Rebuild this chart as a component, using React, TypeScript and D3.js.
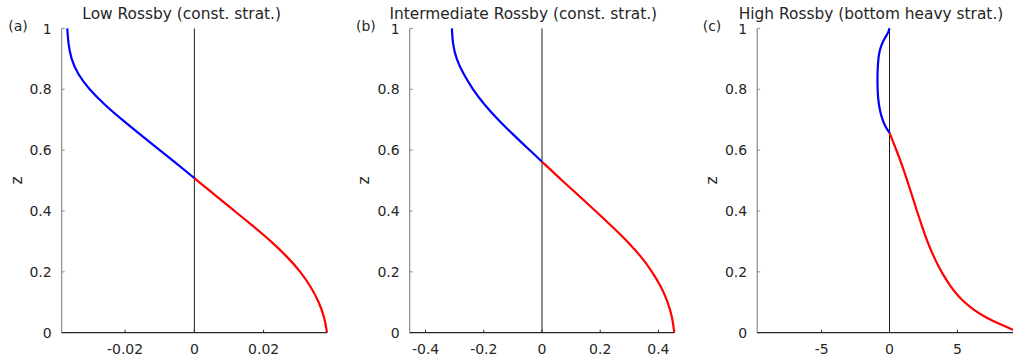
import React from "react";
import * as d3 from "d3";

// ---------- data ----------
const zTicks = [0, 0.2, 0.4, 0.6, 0.8, 1];
const zTickLabels = ["0", "0.2", "0.4", "0.6", "0.8", "1"];

const titles = [
  "Low Rossby (const. strat.)",
  "Intermediate Rossby (const. strat.)",
  "High Rossby (bottom heavy strat.)",
];
const panelTags = ["(a)", "(b)", "(c)"];
const yLabel = "z";

const xDomainA = [-0.0383, 0.0383];
const xTicksA = [-0.02, 0, 0.02];
const xTickLabelsA = ["-0.02", "0", "0.02"];
const zA_blue = [1, 0.95, 0.9, 0.85, 0.8, 0.75, 0.7, 0.65, 0.6, 0.55, 0.508];
const uA_blue = [-0.0367, -0.0364, -0.0356, -0.0337, -0.0304, -0.026, -0.0209, -0.0155, -0.01, -0.0045, 0];
const zA_red = [0.508, 0.45, 0.4, 0.35, 0.3, 0.25, 0.2, 0.15, 0.1, 0.05, 0];
const uA_red = [0, 0.0062, 0.0116, 0.017, 0.0222, 0.0268, 0.0307, 0.0337, 0.036, 0.0376, 0.0383];

const xDomainB = [-0.4546, 0.4546];
const xTicksB = [-0.4, -0.2, 0, 0.2, 0.4];
const xTickLabelsB = ["-0.4", "-0.2", "0", "0.2", "0.4"];
const zB_blue = [1, 0.95, 0.9, 0.85, 0.8, 0.75, 0.7, 0.65, 0.6, 0.562];
const uB_blue = [-0.3095, -0.307, -0.295, -0.27, -0.238, -0.199, -0.151, -0.098, -0.0426, 0];
const zB_red = [0.562, 0.5, 0.45, 0.4, 0.35, 0.3, 0.25, 0.2, 0.15, 0.1, 0.05, 0];
const uB_red = [0, 0.069, 0.127, 0.184, 0.24, 0.294, 0.341, 0.379, 0.41, 0.433, 0.448, 0.4546];

const xDomainC = [-9.75, 9.75];
const xTicksC = [-5, 0, 5];
const xTickLabelsC = ["-5", "0", "5"];
const zC_blue = [1, 0.99, 0.98, 0.96, 0.94, 0.92, 0.9, 0.87, 0.84, 0.8, 0.77, 0.74, 0.71, 0.68, 0.657];
const uC_blue = [0, -0.06, -0.18, -0.45, -0.64, -0.76, -0.82, -0.87, -0.89, -0.88, -0.84, -0.75, -0.6, -0.35, 0];
const zC_red = [0.657, 0.6, 0.55, 0.5, 0.45, 0.4, 0.35, 0.3, 0.25, 0.2, 0.15, 0.125, 0.1, 0.075, 0.05, 0.025, 0.01, 0];
const uC_red = [0, 0.51, 0.93, 1.31, 1.67, 2.02, 2.39, 2.78, 3.25, 3.81, 4.53, 4.98, 5.52, 6.19, 7.09, 8.28, 9.08, 9.7];

// ---------- layout ----------
const W = 1013;
const H = 361;
const TOP = 28.4;
const BOTTOM = 332.7;
const FONT = "'DejaVu Sans', sans-serif";
const TEXT = "#262626";

const panels = [
  { left: 61.7, width: 265.3, titleX: 181.7, tagX: 8.3, zLabelX: 21.5,
    domain: xDomainA, ticks: xTicksA, tickLabels: xTickLabelsA,
    blue: [zA_blue, uA_blue], red: [zA_red, uA_red] },
  { left: 409.7, width: 264.6, titleX: 523.3, tagX: 356, zLabelX: 369,
    domain: xDomainB, ticks: xTicksB, tickLabels: xTickLabelsB,
    blue: [zB_blue, uB_blue], red: [zB_red, uB_red] },
  { left: 757.2, width: 264.6, titleX: 871, tagX: 702.7, zLabelX: 716.5,
    domain: xDomainC, ticks: xTicksC, tickLabels: xTickLabelsC,
    blue: [zC_blue, uC_blue], red: [zC_red, uC_red] },
];

function Panel({ p, i }: { p: any; i: number }) {
  const x = d3.scaleLinear().domain(p.domain).range([p.left, p.left + p.width]);
  const y = d3.scaleLinear().domain([0, 1]).range([BOTTOM, TOP]);
  const line = d3
    .line<[number, number]>()
    .x((d) => x(d[1]))
    .y((d) => y(d[0]))
    .curve(d3.curveBasis);
  const pts = (s: number[][]) => s[0].map((z, k) => [z, s[1][k]] as [number, number]);
  const x0 = x(0);
  const right = p.left + p.width;
  return (
    <g>
      <text x={p.titleX} y={18.7} textAnchor="middle" fontSize={15.4} fill={TEXT}>
        {titles[i]}
      </text>
      <text x={p.tagX} y={31.4} fontSize={14} fill={TEXT}>
        {panelTags[i]}
      </text>
      <text
        transform={`translate(${p.zLabelX},${(TOP + BOTTOM) / 2}) rotate(-90)`}
        textAnchor="middle"
        fontSize={15.4}
        fill={TEXT}
      >
        {yLabel}
      </text>
      {/* zero line */}
      <line x1={x0} x2={x0} y1={y(0)} y2={y(1)} stroke="#1a1a1a" strokeWidth={1} />
      {/* curves */}
      <path d={line(pts(p.blue)) || ""} fill="none" stroke="#0000ff" strokeWidth={2.2} />
      <path d={line(pts(p.red)) || ""} fill="none" stroke="#ff0000" strokeWidth={2.2} />
      {/* left axis */}
      <line x1={p.left} x2={p.left} y1={TOP} y2={BOTTOM} stroke="#8c8c8c" strokeWidth={1.2} />
      {zTicks.map((t, k) => (
        <g key={"y" + k}>
          <line x1={p.left} x2={p.left + 3} y1={y(t)} y2={y(t)} stroke="#8c8c8c" strokeWidth={1} />
          <text x={p.left - 10} y={y(t) + 5.1} textAnchor="end" fontSize={14} fill={TEXT}>
            {zTickLabels[k]}
          </text>
        </g>
      ))}
      {/* bottom axis */}
      <line x1={p.left} x2={right} y1={BOTTOM} y2={BOTTOM} stroke={TEXT} strokeWidth={1.2} />
      {p.ticks.map((t: number, k: number) => (
        <g key={"x" + k}>
          <line x1={x(t)} x2={x(t)} y1={BOTTOM} y2={BOTTOM - 3} stroke={TEXT} strokeWidth={1} />
          <text x={x(t)} y={353.6} textAnchor="middle" fontSize={14} fill={TEXT}>
            {p.tickLabels[k]}
          </text>
        </g>
      ))}
    </g>
  );
}

export default function App() {
  return (
    <svg
      width={W}
      height={H}
      viewBox={`0 0 ${W} ${H}`}
      style={{ position: "absolute", left: 0, top: 0, background: "#fff" }}
      fontFamily={FONT}
    >
      <rect x={0} y={0} width={W} height={H} fill="#fff" />
      {panels.map((p, i) => (
        <Panel key={i} p={p} i={i} />
      ))}
    </svg>
  );
}
